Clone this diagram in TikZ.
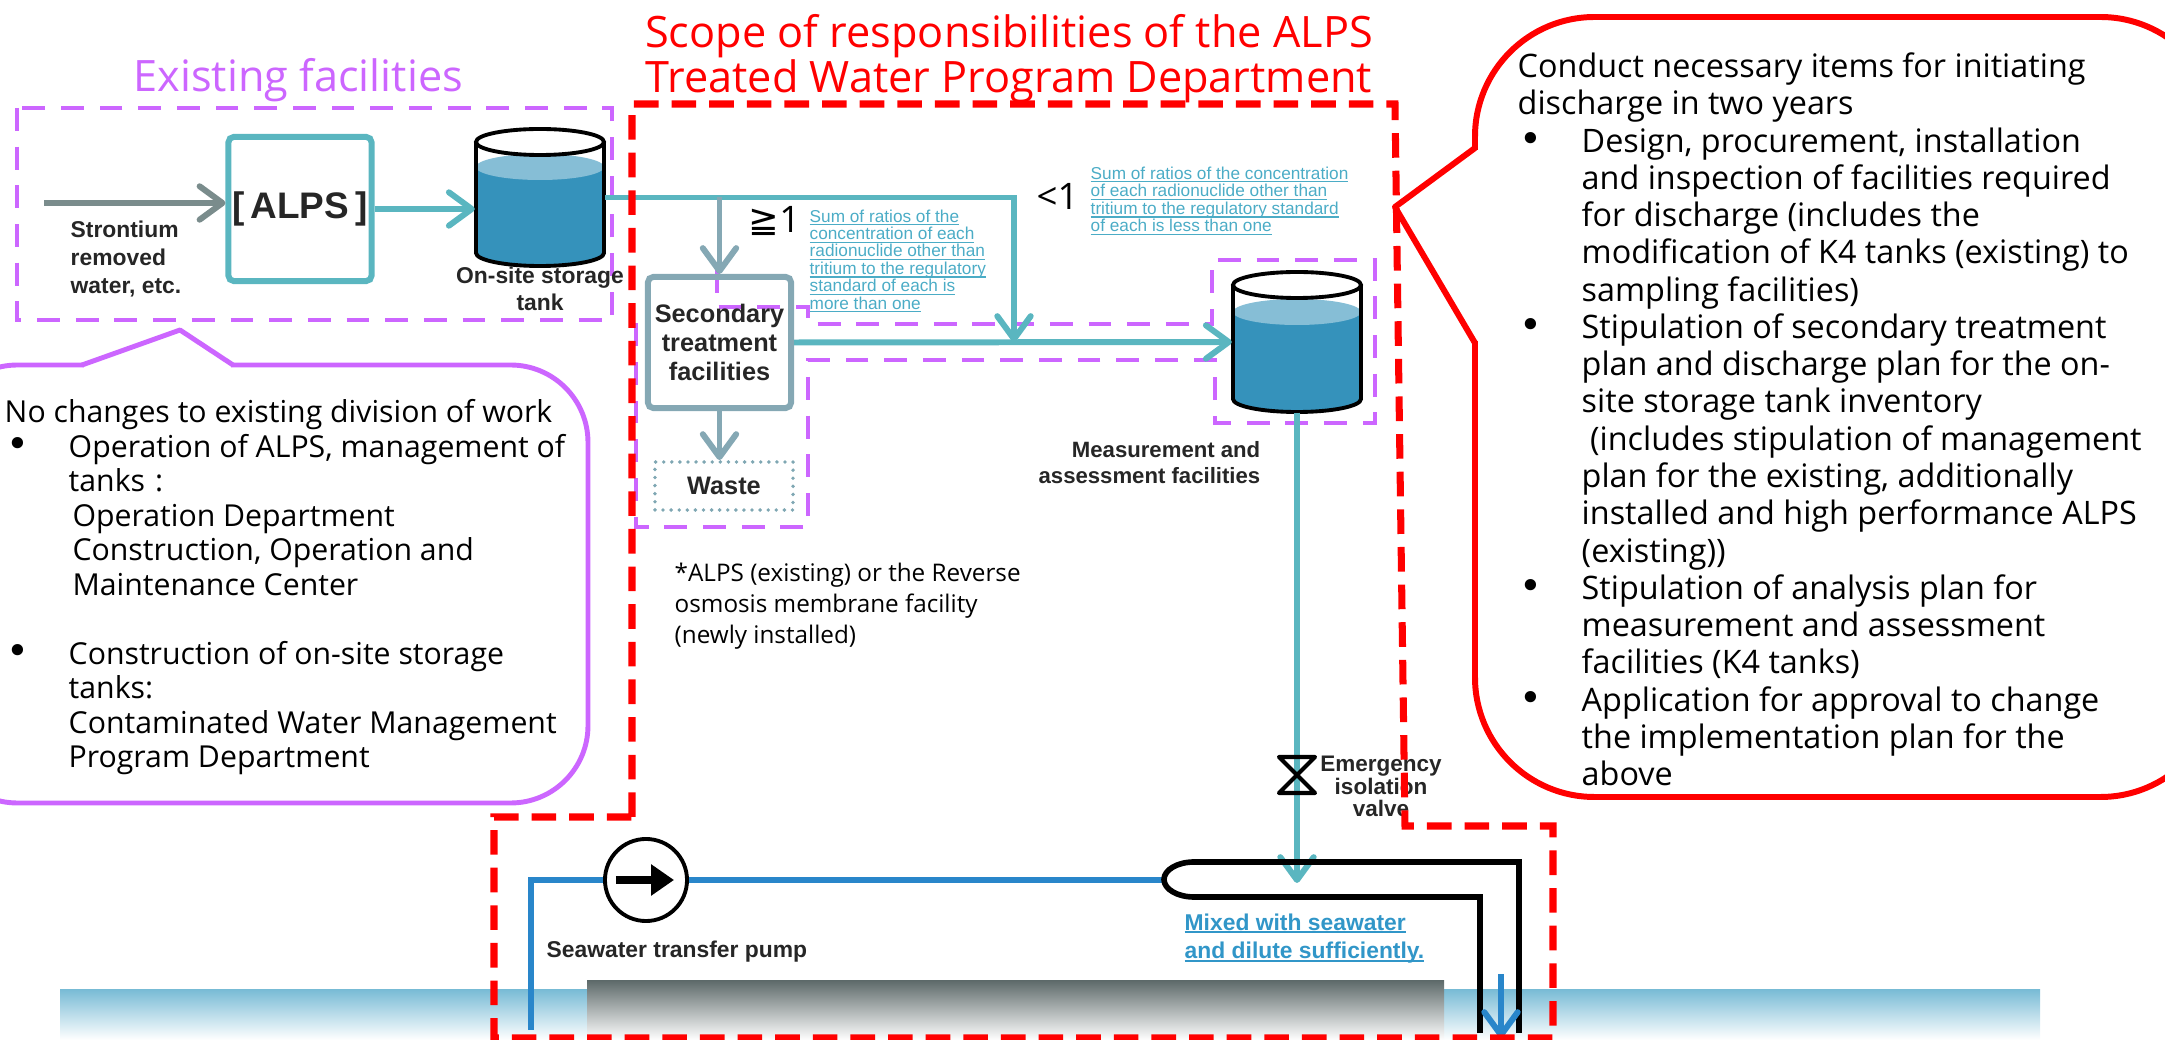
\documentclass[tikz,border=0pt]{standalone}
\usepackage{fontspec}
\setmainfont{Open Sans}
\newfontfamily\arialfont{Liberation Sans}
\newfontfamily\symfont{DejaVu Sans}
\usetikzlibrary{arrows.meta}

\definecolor{purp}{RGB}{204,102,255}
\definecolor{tealline}{RGB}{90,182,192}
\definecolor{tealtext}{RGB}{75,172,198}
\definecolor{grayline}{RGB}{133,168,180}
\definecolor{inputgray}{RGB}{122,140,140}
\definecolor{wasteline}{RGB}{127,167,179}
\definecolor{waterdark}{RGB}{53,146,187}
\definecolor{waterlight}{RGB}{134,190,214}
\definecolor{pipeblue}{RGB}{41,134,202}
\definecolor{mixtext}{RGB}{49,150,200}
\definecolor{labeltext}{RGB}{38,38,38}
\definecolor{seatop}{RGB}{122,188,214}
\definecolor{groundtop}{RGB}{95,107,107}

\newcommand{\ulin}[2][0.35pt]{\setbox0\hbox{#2}\rlap{\rule[-0.9pt]{\wd0}{#1}}\box0}
\newcommand{\itembul}{\makebox[18.2pt][l]{\hspace*{0.6pt}{\symfont\fontsize{11pt}{10pt}\selectfont •}}}
\newcommand{\itemind}{\hspace*{18.2pt}}

\begin{document}
\begin{tikzpicture}[x=0.01cm, y=-0.01cm,
    purpdash/.style={draw=purp, line width=1.3pt, dash pattern=on 6.5pt off 4.5pt},
    reddash/.style={draw=red, line width=2pt, dash pattern=on 7pt off 3.7pt},
    tealflow/.style={draw=tealline, line width=1.7pt, -{Straight Barb[length=6.5pt,width=9.5pt,round]}},
    grayflow/.style={tealflow, draw=grayline},
    blueflow/.style={tealflow, draw=pipeblue},
    lbl/.style={font=\arialfont\bfseries\fontsize{6.5pt}{8pt}\selectfont, text=labeltext, inner sep=0pt},
    facility/.style={draw, line width=1.7pt, rounded corners=1.5pt, lbl},
    note/.style={font=\arialfont\fontsize{4.9pt}{4.95pt}\selectfont, text=tealtext, align=left, inner sep=0pt, anchor=north west},
    body/.style={font=\fontsize{9.2pt}{10.6pt}\selectfont, align=left, inner sep=0pt, anchor=north west}]

    \useasboundingbox (0,0) rectangle (2165,1040);

    % Sea and ground
    \shade[top color=seatop, bottom color=white] (60,990) rectangle (2040,1040);
    \shade[top color=groundtop, bottom color=white] (587,981) rectangle (1444,1040);

    % Titles
    \node[font=\fontsize{12.3pt}{12.8pt}\selectfont, text=purp, anchor=base west, inner sep=0pt] (titleExist) at (133,92) {Existing facilities};
    \node[font=\fontsize{12.3pt}{12.8pt}\selectfont, text=red, align=center, anchor=north, inner sep=0pt] (titleScope) at (1009,14) {Scope of responsibilities of the ALPS\\Treated Water Program Department};

    % Purple areas
    \draw[purpdash] (17,108) rectangle (612,320);
    \draw[purpdash] (717,270) -- (717,307) -- (808,307) -- (808,324) -- (1212,324) -- (1212,260) -- (1375,260) -- (1375,423) -- (1215,423) -- (1215,360) -- (808,360) -- (808,527) -- (636,527) -- (636,320);

    % Tanks
    \foreach \n/\cx/\yt/\yb/\yw/\h in {tankA/540/142/253/167/1.37, tankB/1297/285/399/312/1.40}{
        \fill[waterdark] (\cx-64,\yw) -- (\cx-64,\yb) arc[start angle=180, end angle=0, x radius=64, y radius=13] -- (\cx+64,\yw) -- cycle;
        \fill[waterlight] (\cx,\yw) ellipse [x radius=64, y radius=13];
        \draw[line width=1.1pt] (\cx-64,\yt) -- (\cx-64,\yb) arc[start angle=180, end angle=0, x radius=64, y radius=13] -- (\cx+64,\yt);
        \draw[line width=1.1pt, fill=white] (\cx,\yt) ellipse [x radius=64, y radius=13];
        \node[inner sep=0pt, minimum width=1.29cm, minimum height=\h cm] (\n) at (\cx,{(\yt+\yb)/2}) {};
    }

    % Facilities
    \node[facility, draw=tealline, minimum width=1.43cm, minimum height=1.44cm, font=\arialfont\bfseries\fontsize{10.5pt}{12pt}\selectfont] (alps) at (300,209) {[\,ALPS\,]};
    \node[facility, draw=grayline, minimum width=1.43cm, minimum height=1.31cm, align=center, font=\arialfont\bfseries\fontsize{7.2pt}{8.3pt}\selectfont] (sec) at (719.5,342.5) {Secondary\\treatment\\facilities};
    \node[lbl, font=\arialfont\bfseries\fontsize{7.2pt}{8.3pt}\selectfont, draw=wasteline, line width=1.1pt, line cap=round, dash pattern=on 0pt off 2.3pt, minimum width=1.38cm, minimum height=0.48cm] (waste) at (724,486) {Waste};
    \node[circle, draw, line width=1.1pt, fill=white, minimum size=0.82cm, inner sep=0pt] (pump) at (646,880) {};

    \coordinate (src) at (44,203);
    \coordinate (join) at (1014,342);
    \coordinate (valve) at (1297,775);
    \coordinate (mixIn) at (1297,883);
    \coordinate (intake) at (531,1030);
    \coordinate (mixEnd) at (1164,880);
    \coordinate (outTop) at (1501,974);
    \coordinate (outSea) at (1501,1038);

    % Flows
    \draw[tealflow, draw=inputgray] (src) -- (src -| alps.west);
    \draw[tealflow] (alps.east) -- (alps.east -| tankA.west);
    \draw[tealflow] (tankA.east) -| (join);
    \draw[grayflow] (tankA.east -| sec.north) -- (sec.north);
    \draw[tealflow] (sec.east) -- (tankB.west);
    \draw[grayflow] (sec.south) -- (sec.south |- waste.north);
    \draw[tealflow] (tankB.south) -- (mixIn);
    \draw[line width=1.2pt, line join=round] ([shift={(-18,-18)}]valve) -- ([shift={(18,-18)}]valve) -- ([shift={(-18,18)}]valve) -- ([shift={(18,18)}]valve) -- cycle;

    % Seawater line and pump
    \draw[pipeblue, line width=1.7pt] (intake) |- (pump.west);
    \draw[pipeblue, line width=1.7pt] (pump.east) -- (mixEnd);
    \draw[line width=2pt, -{Triangle[length=6.5pt,width=8.5pt]}] ([xshift=-0.30cm]pump.center) -- ([xshift=0.28cm]pump.center);
    \draw[line width=1.6pt] (1519,1033) -- (1519,862) -- (1194,862) arc[start angle=270, end angle=90, x radius=30, y radius=17.5] -- (1480,897) -- (1480,1033);
    \draw[blueflow] (outTop) -- (outSea);

    % Labels
    \node[lbl, align=left, anchor=north west] (srcLbl) at (70,220) {Strontium\\removed\\water, etc.};
    \node[lbl, align=center, anchor=north, font=\arialfont\bfseries\fontsize{6.5pt}{7.7pt}\selectfont] (tankALbl) at (540,266) {On-site storage\\tank};
    \node[lbl, align=right, anchor=north east, font=\arialfont\bfseries\fontsize{6.3pt}{7.4pt}\selectfont] (tankBLbl) at (1261,441) {Measurement and\\assessment facilities};
    \node[lbl, align=center, anchor=north, font=\arialfont\bfseries\fontsize{6.4pt}{6.5pt}\selectfont] (valveLbl) at (1381,755) {Emergency\\isolation\\valve};
    \node[lbl, anchor=base west] (pumpLbl) at (546,958) {Seawater transfer pump};
    \node[lbl, align=left, anchor=north west, text=mixtext] (mixLbl) at (1184,913) {\ulin[0.55pt]{Mixed with seawater}\\\ulin[0.55pt]{and dilute sufficiently.}};

    \node[font=\fontsize{10.4pt}{12pt}\selectfont, anchor=base west, inner sep=0pt] (ge) at (748,233) {{\symfont ≧}1};
    \node[font=\fontsize{10.4pt}{12pt}\selectfont, anchor=base west, inner sep=0pt] (lt) at (1036,210) {<1};
    \node[note] (noteGe) at (809,209) {\ulin{Sum of ratios of the}\\\ulin{concentration of each}\\\ulin{radionuclide other than}\\\ulin{tritium to the regulatory}\\\ulin{standard of each is}\\\ulin{more than one}};
    \node[note, font=\arialfont\fontsize{4.9pt}{5pt}\selectfont] (noteLt) at (1090,166) {\ulin{Sum of ratios of the concentration}\\\ulin{of each radionuclide other than}\\\ulin{tritium to the regulatory standard}\\\ulin{of each is less than one}};
    \node[body, font=\fontsize{6.9pt}{8.8pt}\selectfont] (foot) at (674,562) {*ALPS (existing) or the Reverse\\osmosis membrane facility\\(newly installed)};

    % Left bubble
    \draw[purp, line width=1.4pt, rounded corners=22pt] (-60,365) rectangle (588,803);
    \fill[white] (84,358) rectangle (231,372);
    \draw[purp, line width=1.4pt, line join=round] (82,365) -- (180,330) -- (233,365);
    \node[body, font=\fontsize{8.6pt}{9.8pt}\selectfont] (leftTxt) at (4,399) {No changes to existing division of work\\
        \itembul Operation of ALPS, management of\\
        \itemind tanks\,\,:\\
        \itemind\hspace*{1.1pt}Operation Department\\
        \itemind\hspace*{1.1pt}Construction, Operation and\\
        \itemind\hspace*{1.1pt}Maintenance Center\\
        \mbox{}\\
        \itembul Construction of on-site storage\\
        \itemind tanks:\\
        \itemind Contaminated Water Management\\
        \itemind Program Department};

    % Right bubble
    \draw[red, line width=1.7pt, rounded corners=34pt] (1475,17) rectangle (2220,797);
    \fill[white] (1468,150) rectangle (1482,341);
    \draw[red, line width=1.7pt, line join=round] (1475,148) -- (1395,207) -- (1475,343);
    \node[body] (rightTxt) at (1517,52) {Conduct necessary items for initiating\\
        discharge in two years\\
        \itembul Design, procurement, installation\\
        \itemind and inspection of facilities required\\
        \itemind for discharge (includes the\\
        \itemind modification of K4 tanks (existing) to\\
        \itemind sampling facilities)\\
        \itembul Stipulation of secondary treatment\\
        \itemind plan and discharge plan for the on-\\
        \itemind site storage tank inventory\\
        \itemind\ (includes stipulation of management\\
        \itemind plan for the existing, additionally\\
        \itemind installed and high performance ALPS\\
        \itemind (existing))\\
        \itembul Stipulation of analysis plan for\\
        \itemind measurement and assessment\\
        \itemind facilities (K4 tanks)\\
        \itembul Application for approval to change\\
        \itemind the implementation plan for the\\
        \itemind above};

    % Scope of responsibilities
    \draw[reddash] (632,817) -- (632,104) -- (1395,104) -- (1405,826) -- (1553,826) -- (1553,1038) -- (494,1038) -- (494,817) -- cycle;
\end{tikzpicture}
\end{document}
